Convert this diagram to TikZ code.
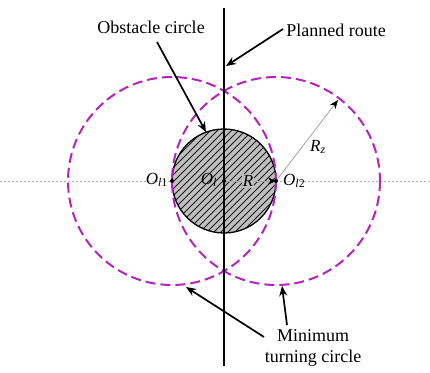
\documentclass[tikz,border=0pt]{standalone}
\usepackage{fontspec}
\setmainfont{Liberation Serif}
\usetikzlibrary{arrows.meta,calc}
\definecolor{tcirc}{RGB}{180,35,190}
\tikzset{
  turncirc/.style={draw=tcirc, line width=2pt, dash pattern=on 10pt off 5pt},
  lbl/.style={font=\fontsize{18}{21}\selectfont, inner sep=0pt},
  sym/.style={font=\fontsize{17}{20}\selectfont, inner sep=0pt},
  callout/.style={draw=black, line width=1.7pt, -{Stealth[length=10pt,width=8pt]}},
  dot/.style={circle, fill=black, inner sep=0pt, minimum size=4pt},
}
\begin{document}
\begin{tikzpicture}[x=1pt,y=-1pt]
\useasboundingbox (0,0) rectangle (430,372);
% coordinates
\coordinate (Ol) at (224,181);
\coordinate (Ol1) at (172,181);
\coordinate (Ol2) at (276,181);
% horizontal dotted axis
\coordinate (axL) at (0,181);
\coordinate (axR) at (430,181);
\draw[gray!60, line width=0.8pt, dash pattern=on 1.5pt off 2.5pt] (axL) -- (axR);
% obstacle circle with hatching
\fill[gray!50] (Ol) circle (52);
\begin{scope}
  \clip (Ol) circle (52);
  \foreach \k in {-120,-113,...,120}{
    \draw[black!90, line width=0.9pt] ($(Ol)+(\k-60,60)$) -- ($(Ol)+(\k+60,-60)$);
  }
\end{scope}
\draw[black, line width=1.3pt] (Ol) circle (52);
% turning circles
\draw[turncirc] (Ol1) circle (104);
\draw[turncirc] (Ol2) circle (104);
% planned route
\coordinate (rtop) at (224,8);
\coordinate (rbot) at (224,366);
\draw[black, line width=1.6pt] (rtop) -- (rbot);
% R arrow
\draw[gray!70, line width=0.6pt, -{Stealth[length=8pt,width=7pt,black]}] (Ol) -- (Ol2);
\node[sym, fill=gray!50, inner sep=1pt] (R) at (248,181) {\textit{R}};
% Rz arrow
\coordinate (Rztip) at (338,100);
\draw[gray!70, line width=0.8pt, -{Stealth[length=9pt,width=7pt,black]}] (Ol2) -- (Rztip);
\node[sym] (Rz) at (318,147) {\textit{R}\textsubscript{\textit{z}}};
% points
\node[dot] (p1) at (Ol1) {};
\node[dot] (p0) at (Ol) {};
\node[dot] (p2) at (Ol2) {};
% point labels
\node[sym, anchor=east] (L1) at (168,180) {\textit{O}\textsubscript{\textit{l}1}};
\node[sym] (L0) at (209,180) {\textit{O}\textsubscript{\textit{l}}};
\node[sym, anchor=west] (L2) at (283,181) {\textit{O}\textsubscript{\textit{l}2}};
% text labels
\node[lbl] (obs) at (151,27) {Obstacle circle};
\node[lbl] (route) at (336,30) {Planned route};
\node[lbl, align=center] (mtc) at (313,348) {Minimum\\turning circle};
% callouts
\coordinate (obsStart) at (157,42);
\coordinate (obsTip) at (206,132);
\coordinate (routeStart) at (283,29);
\coordinate (routeTip) at (226,66);
\coordinate (mt1s) at (264,337);
\coordinate (mt1) at (186,287);
\coordinate (mt2s) at (287,325);
\coordinate (mt2) at (282,286);
\draw[callout] (obsStart) -- (obsTip);
\draw[callout] (routeStart) -- (routeTip);
\draw[callout] (mt1s) -- (mt1);
\draw[callout] (mt2s) -- (mt2);
\end{tikzpicture}
\end{document}
